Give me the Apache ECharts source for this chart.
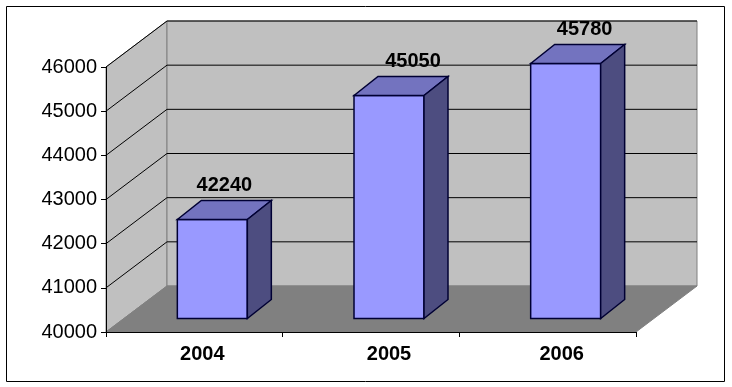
<!DOCTYPE html>
<html>
<head>
<meta charset="utf-8">
<style>
  html, body { margin: 0; padding: 0; background: #fff; }
  #main { width: 732px; height: 387px; }
</style>
<script src="https://cdn.jsdelivr.net/npm/echarts@6/dist/echarts.min.js"></script>
</head>
<body>
<div id="main"></div>
<script>
var years = ['2004', '2005', '2006'];
var values = [42240, 45050, 45780];
var gridTicks = [41000, 42000, 43000, 44000, 45000, 46000];

// fake 3d: how far the back wall sits from the front plane, in px
var wallDx = 61, wallDy = 46;
// bars stand part way into the box
var barInDx = 18, barInDy = 14;
var barW = 70, barDx = 24, barDy = 19;
// hand placed shift of each value label from the bar centre
var labelShift = [12, 24, 19];
var font = '"Liberation Sans", Arial, sans-serif';

function px(v) { return Math.round(v) + 0.5; }

function renderWalls(params, api) {
  var c = params.coordSys;
  var l = c.x, r = c.x + c.width, t = c.y, b = c.y + c.height;
  var wall = { fill: '#c0c0c0', stroke: '#808080', lineWidth: 1 };
  return {
    type: 'group',
    children: [
      { type: 'polygon', shape: { points: [[l, b], [l, t], [l + wallDx, t - wallDy], [l + wallDx, b - wallDy]] }, style: wall },
      { type: 'polygon', shape: { points: [[l + wallDx, t - wallDy], [r + wallDx, t - wallDy], [r + wallDx, b - wallDy], [l + wallDx, b - wallDy]] }, style: wall },
      { type: 'polygon', shape: { points: [[l, b], [r, b], [r + wallDx, b - wallDy], [l + wallDx, b - wallDy]] }, style: { fill: '#808080', stroke: '#808080', lineWidth: 1 } }
    ]
  };
}

function renderGridLine(params, api) {
  var c = params.coordSys;
  var y = api.coord([0, api.value(0)])[1];
  var p = [[c.x, y], [c.x + wallDx, y - wallDy], [c.x + c.width + wallDx, y - wallDy]];
  return {
    type: 'polyline',
    shape: { points: p },
    style: { fill: null, stroke: '#000', lineWidth: 1 }
  };
}

function renderBar(params, api) {
  var top = api.coord([api.value(0), api.value(1)]);
  var base = api.coord([api.value(0), 40000]);
  var l = top[0] + barInDx - barW / 2, r = l + barW;
  var yt = px(top[1] - barInDy);
  var yb = px(base[1] - barInDy);
  var line = { stroke: '#000033', lineWidth: 1.5 };
  return {
    type: 'group',
    children: [
      { type: 'polygon', shape: { points: [[l, yt], [r, yt], [r, yb], [l, yb]] }, style: Object.assign({ fill: '#9999ff' }, line) },
      { type: 'polygon', shape: { points: [[l, yt], [l + barDx, yt - barDy], [r + barDx, yt - barDy], [r, yt]] }, style: Object.assign({ fill: '#7373bf' }, line) },
      { type: 'polygon', shape: { points: [[r, yt], [r + barDx, yt - barDy], [r + barDx, yb - barDy], [r, yb]] }, style: Object.assign({ fill: '#4d4d80' }, line) },
      {
        type: 'text',
        x: top[0] + barInDx + labelShift[params.dataIndex],
        y: yt - 34,
        style: {
          text: String(api.value(1)),
          font: 'bold 20px ' + font,
          fill: '#000',
          align: 'center',
          verticalAlign: 'middle'
        }
      }
    ]
  };
}

var myChart = echarts.init(document.getElementById('main'));

var option = {
  animation: false,
  backgroundColor: '#fff',
  graphic: [{
    type: 'rect',
    shape: { x: 6.5, y: 6.5, width: 718, height: 375 },
    style: { fill: null, stroke: '#000', lineWidth: 1 },
    z: -1
  }],
  grid: { left: 106, right: 96, top: 67, bottom: 55 },
  xAxis: {
    type: 'category',
    data: years,
    z: 5,
    axisLine: { lineStyle: { color: '#000' } },
    axisTick: { show: true, length: 5, lineStyle: { color: '#000' } },
    axisLabel: {
      margin: 12,
      color: '#000',
      fontFamily: font,
      fontWeight: 'bold',
      fontSize: 20,
      formatter: function (v, i) { return '{s' + i + '|' + v + '}'; },
      rich: {
        s0: { padding: [0, 0, 0, 16] },
        s1: { padding: [0, 0, 0, 36] },
        s2: { padding: [0, 0, 0, 28] }
      }
    }
  },
  yAxis: {
    type: 'value',
    min: 40000,
    max: 46000,
    interval: 1000,
    z: 5,
    axisLine: { show: true, lineStyle: { color: '#000' } },
    axisTick: { show: true, length: 5, lineStyle: { color: '#000' } },
    axisLabel: {
      margin: 9,
      color: '#000',
      fontFamily: font,
      fontSize: 20,
      formatter: function (v) { return String(v); }
    },
    splitLine: { show: false }
  },
  series: [
    { type: 'custom', z: 1, silent: true, clip: false, renderItem: renderWalls, data: [0] },
    { type: 'custom', z: 2, silent: true, clip: false, renderItem: renderGridLine, encode: { y: 0 }, data: gridTicks.map(function (v) { return [v]; }) },
    {
      type: 'custom',
      z: 3,
      clip: false,
      renderItem: renderBar,
      encode: { x: 0, y: 1 },
      data: values.map(function (v, i) { return [i, v]; })
    }
  ]
};

myChart.setOption(option);
</script>
</body>
</html>
